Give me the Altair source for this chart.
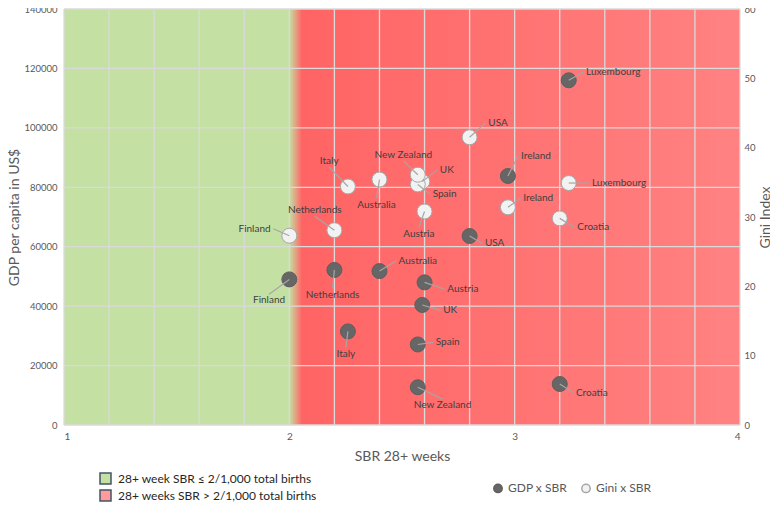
import altair as alt
import pandas as pd

# ---------------- data ----------------
countries = ["Luxembourg", "Ireland", "Croatia", "USA", "Austria", "UK", "Spain",
             "New Zealand", "Italy", "Australia", "Netherlands", "Finland"]
sbr = [3.24, 2.97, 3.20, 2.80, 2.60, 2.59, 2.57, 2.57, 2.26, 2.40, 2.20, 2.00]
gdp = [116000, 83800, 13800, 63600, 48000, 40400, 27100, 12700, 31500, 51800, 52200, 49000]
gini = [34.9, 31.4, 29.8, 41.5, 30.8, 35.1, 34.7, 36.1, 34.4, 35.4, 28.1, 27.3]

# label anchor positions (data units) and alignment
gdp_label_x = [3.317, 3.028, 3.272, 2.868, 2.701, 2.683, 2.650, 2.680, 2.251, 2.485, 2.192, 1.910]
gdp_label_y = [118800, 90600, 10900, 61100, 45700, 38600, 27800, 6600, 23900, 55200, 43900, 41900]
gdp_label_align = ["left", "left", "left", "left", "left", "left", "left",
                   "center", "center", "left", "center", "center"]
gini_label_x = [3.343, 3.038, 3.278, 2.883, 2.575, 2.668, 2.636, 2.506, 2.177, 2.387, 2.113, 1.917]
gini_label_y = [34.9, 32.7, 28.5, 43.6, 27.6, 36.8, 33.3, 39.0, 38.1, 31.8, 31.0, 28.3]
gini_label_align = ["left", "left", "left", "left", "center", "left", "left",
                    "center", "center", "center", "center", "right"]

zone_names = ["28+ week SBR \u2264 2/1,000 total births", "28+ weeks SBR > 2/1,000 total births"]
zone_start = [1, 2]
zone_end = [2, 4]
series_names = ["GDP x SBR", "Gini x SBR"]

x_ticks = [1, 2, 3, 4]
x_grid = [1.0, 1.2, 1.4, 1.6, 1.8, 2.0, 2.2, 2.4, 2.6, 2.8, 3.0, 3.2, 3.4, 3.6, 3.8, 4.0]
gdp_ticks = [0, 20000, 40000, 60000, 80000, 100000, 120000, 140000]
gini_ticks = [0, 10, 20, 30, 40, 50, 60]

FONT = "Lato"
W, H = 676, 416


def leader_ends(lx, ly, align, px, py, d):
    ex, ey = [], []
    for x, y, a, p in zip(lx, ly, align, py):
        if a == "left":
            ex.append(x - 0.012); ey.append(y)
        elif a == "right":
            ex.append(x + 0.012); ey.append(y)
        else:
            ex.append(x); ey.append(y + d if y < p else y - d)
    return ex, ey


gex, gey = leader_ends(gdp_label_x, gdp_label_y, gdp_label_align, sbr, gdp, 2100)
iex, iey = leader_ends(gini_label_x, gini_label_y, gini_label_align, sbr, gini, 0.9)

gdp_df = pd.DataFrame({"country": countries, "sbr": sbr, "val": gdp,
                       "lx": gdp_label_x, "ly": gdp_label_y, "align": gdp_label_align,
                       "ex": gex, "ey": gey, "series": series_names[0]})
gini_df = pd.DataFrame({"country": countries, "sbr": sbr, "val": gini,
                        "lx": gini_label_x, "ly": gini_label_y, "align": gini_label_align,
                        "ex": iex, "ey": iey, "series": series_names[1]})
zone_df = pd.DataFrame({"zone": zone_names, "x0": zone_start, "x1": zone_end})
xgrid_df = pd.DataFrame({"g": x_grid})
ygrid_df = pd.DataFrame({"g": gdp_ticks})

xscale = alt.Scale(domain=[1, 4], nice=False, zero=False)
gdp_scale = alt.Scale(domain=[0, 140000], nice=False)
gini_scale = alt.Scale(domain=[0, 60], nice=False)

x_axis = alt.Axis(values=x_ticks, format="d", title="SBR 28+ weeks", labelPadding=6, titlePadding=8)
gdp_axis = alt.Axis(values=gdp_ticks, format="d", title="GDP per capita in US$",
                    orient="left", labelPadding=7, titlePadding=2, labelFontSize=9.5)
gini_axis = alt.Axis(values=gini_ticks, format="d", title="Gini Index", orient="right",
                     labelPadding=4, titlePadding=3, titleAngle=270, titleBaseline="top",
                     labelFontSize=9.5)

pt_legend = dict(orient="none", legendX=428, legendY=473, direction="horizontal",
                 title=None, symbolType="circle", symbolSize=70, labelLimit=300,
                 labelFontSize=12, labelColor="#595959", columnPadding=10,
                 labelOffset=4, padding=0)
fill_enc = alt.Fill("series:N", scale=alt.Scale(domain=series_names, range=["#666666", "#F2F2F2"]),
                    legend=alt.Legend(**pt_legend))
stroke_enc = alt.Stroke("series:N", scale=alt.Scale(domain=series_names, range=["#5E5E5E", "#A6A6A6"]),
                        legend=alt.Legend(**pt_legend))

# ---------------- background ----------------
bg = alt.Chart(zone_df).mark_rect().encode(
    x=alt.X("x0:Q", scale=xscale, axis=x_axis),
    x2="x1:Q",
    y=alt.Y(datum=0, scale=gdp_scale, axis=gdp_axis),
    y2=alt.Y2(datum=140000),
    color=alt.Color("zone:N", scale=alt.Scale(domain=zone_names, range=["#C5E0A3", "#FF9B9B"]),
                    legend=alt.Legend(orient="none", legendX=35, legendY=463, title=None,
                                      symbolType="square", symbolSize=121, symbolStrokeColor="#44546A",
                                      symbolStrokeWidth=1.5, symbolOpacity=1, labelFontSize=12,
                                      labelColor="#262626", labelOffset=6, rowPadding=0, padding=0,
                                      labelLimit=400)),
)

red_overlay = alt.Chart(zone_df).transform_filter(alt.datum.x0 == 2).mark_rect(
    color=alt.Gradient(gradient="linear",
                       stops=[alt.GradientStop(color="#C5E0A3", offset=0),
                              alt.GradientStop(color="#FF6464", offset=0.028),
                              alt.GradientStop(color="#FF8282", offset=1)],
                       x1=0, x2=1, y1=0, y2=0)
).encode(
    x=alt.X("x0:Q", scale=xscale, axis=x_axis),
    x2="x1:Q",
    y=alt.Y(datum=0, scale=gdp_scale, axis=gdp_axis),
    y2=alt.Y2(datum=140000),
)

vgrid = alt.Chart(xgrid_df).mark_rule(color="#DADADA", strokeWidth=1.3).encode(
    x=alt.X("g:Q", scale=xscale, axis=x_axis),
)
hgrid = alt.Chart(ygrid_df).mark_rule(color="#DADADA", strokeWidth=1.3).encode(
    y=alt.Y("g:Q", scale=gdp_scale, axis=gdp_axis),
)

# ---------------- GDP series ----------------
gdp_points = alt.Chart(gdp_df).mark_point(filled=True, size=225, opacity=1, strokeWidth=1).encode(
    x=alt.X("sbr:Q", scale=xscale, axis=x_axis),
    y=alt.Y("val:Q", scale=gdp_scale, axis=gdp_axis),
    fill=fill_enc,
    stroke=stroke_enc,
)
gdp_rules = alt.Chart(gdp_df).mark_rule(color="#A6A6A6", strokeWidth=1.2).encode(
    x=alt.X("sbr:Q", scale=xscale, axis=x_axis), x2="ex:Q",
    y=alt.Y("val:Q", scale=gdp_scale, axis=gdp_axis), y2="ey:Q",
)


def texts(df, yscale, yaxis):
    layers = []
    for a in ["left", "center", "right"]:
        layers.append(
            alt.Chart(df).transform_filter(alt.datum.align == a).mark_text(
                align=a, baseline="middle", font=FONT, fontSize=10, color="#404040"
            ).encode(
                x=alt.X("lx:Q", scale=xscale, axis=x_axis),
                y=alt.Y("ly:Q", scale=yscale, axis=yaxis),
                text="country:N",
            )
        )
    return layers


gdp_group = alt.layer(bg, red_overlay, vgrid, hgrid, gdp_points, gdp_rules,
                      *texts(gdp_df, gdp_scale, gdp_axis))

# ---------------- Gini series ----------------
gini_points = alt.Chart(gini_df).mark_point(filled=True, size=225, opacity=1, strokeWidth=1).encode(
    x=alt.X("sbr:Q", scale=xscale, axis=x_axis),
    y=alt.Y("val:Q", scale=gini_scale, axis=gini_axis),
    fill=fill_enc,
    stroke=stroke_enc,
)
gini_rules = alt.Chart(gini_df).mark_rule(color="#A6A6A6", strokeWidth=1.2).encode(
    x=alt.X("sbr:Q", scale=xscale, axis=x_axis), x2="ex:Q",
    y=alt.Y("val:Q", scale=gini_scale, axis=gini_axis), y2="ey:Q",
)
gini_group = alt.layer(gini_points, gini_rules, *texts(gini_df, gini_scale, gini_axis))

chart = alt.layer(gdp_group, gini_group).resolve_scale(y="independent").properties(
    width=W, height=H,
    autosize=alt.AutoSizeParams(type="none"),
    padding={"left": 56, "top": 1, "right": 30, "bottom": 79},
).configure_view(stroke=None).configure_axis(
    labelFont=FONT, titleFont=FONT, labelFontSize=10, titleFontSize=14,
    labelColor="#595959", titleColor="#595959", titleFontWeight="normal",
    domain=False, ticks=False, grid=False,
).configure_legend(labelFont=FONT)

chart.save("out.html", embed_options={"renderer": "svg", "actions": False})
